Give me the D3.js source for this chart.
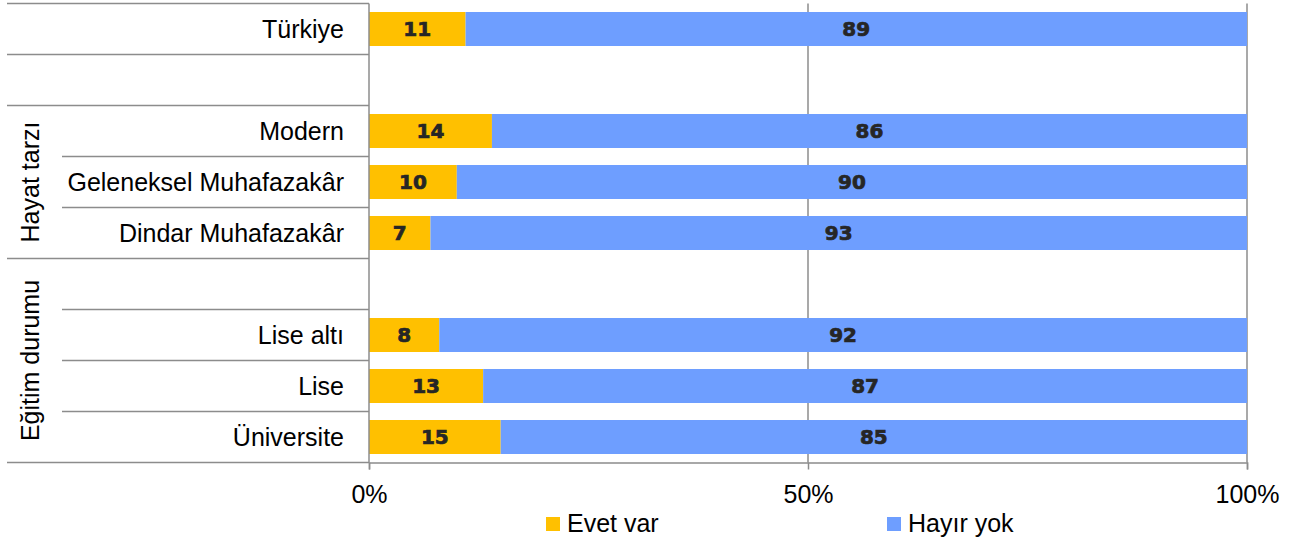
<!DOCTYPE html>
<html>
<head>
<meta charset="utf-8">
<script src="https://cdn.jsdelivr.net/npm/d3@7"></script>
<style>
  html, body { margin: 0; padding: 0; background: #fff; }
  svg { display: block; }
  text { font-family: "Liberation Sans", Arial, sans-serif; }
</style>
</head>
<body>
<svg id="chart" width="1300" height="543"></svg>
<script>
// ---- data ----
const categories = ["Türkiye", "", "Modern", "Geleneksel Muhafazakâr", "Dindar Muhafazakâr", "", "Lise altı", "Lise", "Üniversite"];
const evetVar  = [11, null, 14, 10, 7, null, 8, 13, 15];
const hayirYok = [89, null, 86, 90, 93, null, 92, 87, 85];
const seriesNames = ["Evet var", "Hayır yok"];
const seriesColors = ["#FFC000", "#6E9EFF"];
const groups = [
  { label: "Hayat tarzı", first: 2, last: 4 },
  { label: "Eğitim durumu", first: 5, last: 8 }
];
const xTicks = [0, 50, 100];
const fullLineAfter = [-1, 0, 1, 4, 8]; // separator lines spanning full label area

// ---- layout ----
const svg = d3.select("#chart");
const pLeft = 369, pRight = 1247, pTop = 3.5, pBottom = 462.5;
const keys = categories.map((c, i) => i);
const rows = categories.map((c, i) => ({ i, name: c, vals: [evetVar[i], hayirYok[i]] }));
const fs = "25px";

const x = d3.scaleLinear().domain([0, 100]).range([pLeft, pRight]);
const y = d3.scaleBand().domain(keys).range([pTop, pBottom]).paddingInner(1/3).paddingOuter(1/6);
const step = y.step();
const lineColor = "#8c8c8c";

// gridlines
svg.append("g").selectAll("line").data(xTicks.filter(t => t > 0)).join("line")
  .attr("x1", d => x(d)).attr("x2", d => x(d))
  .attr("y1", pTop).attr("y2", pBottom)
  .attr("stroke", lineColor).attr("stroke-width", 1.5);

// bars
const barG = svg.append("g");
rows.filter(r => r.vals[0] != null).forEach(r => {
  let acc = 0;
  r.vals.forEach((v, s) => {
    barG.append("rect")
      .attr("x", x(acc)).attr("width", x(acc + v) - x(acc))
      .attr("y", y(r.i)).attr("height", y.bandwidth())
      .attr("fill", seriesColors[s]);
    barG.append("text")
      .attr("x", (x(acc) + x(acc + v)) / 2)
      .attr("y", y(r.i) + y.bandwidth() / 2)
      .attr("dy", "0.36em")
      .attr("text-anchor", "middle")
      .style("font-family", "'DejaVu Sans', sans-serif")
      .style("font-weight", "bold")
      .style("font-size", "20px")
      .attr("fill", "#262626")
      .attr("stroke", "#262626").attr("stroke-width", 0.7)
      .text(v);
    acc += v;
  });
});

// separator lines (category axis)
const boundaryY = i => y(i) + y.bandwidth() + step / 6; // bottom edge of row i
const sepG = svg.append("g");
for (let i = -1; i < categories.length; i++) {
  const yy = i < 0 ? pTop : boundaryY(i);
  const full = fullLineAfter.includes(i);
  sepG.append("line")
    .attr("x1", full ? 7 : 62).attr("x2", pLeft)
    .attr("y1", yy).attr("y2", yy)
    .attr("stroke", lineColor).attr("stroke-width", 1.5);
}

// vertical axis line
svg.append("line").attr("x1", pLeft).attr("x2", pLeft).attr("y1", pTop).attr("y2", pBottom)
  .attr("stroke", lineColor).attr("stroke-width", 1.5);

// x axis
const xAxis = d3.axisBottom(x).tickValues(xTicks).tickFormat(d => d + "%").tickSize(7).tickPadding(15.5);
const xg = svg.append("g").attr("transform", `translate(0,${pBottom})`).call(xAxis);
xg.select(".domain").attr("stroke", lineColor).attr("stroke-width", 1.5);
xg.selectAll(".tick line").attr("stroke", lineColor).attr("stroke-width", 1.5);
xg.selectAll(".tick text").style("font-size", fs).attr("fill", "#000")
  .style("font-family", "'Liberation Sans', Arial, sans-serif");

// category labels
svg.append("g").selectAll("text").data(rows.filter(r => r.name)).join("text")
  .attr("x", 344).attr("y", r => y(r.i) + y.bandwidth() / 2).attr("dy", "0.35em")
  .attr("text-anchor", "end").style("font-size", fs).attr("fill", "#000")
  .text(r => r.name);

// group labels
groups.forEach(g => {
  const y0 = y(g.first) - step / 6, y1 = y(g.last) + y.bandwidth() + step / 6;
  svg.append("text")
    .attr("transform", `translate(30,${(y0 + y1) / 2}) rotate(-90)`)
    .attr("text-anchor", "middle").attr("dy", "0.35em")
    .style("font-size", fs).attr("fill", "#000")
    .text(g.label);
});

// legend
const legendX = [546, 887];
seriesNames.forEach((n, s) => {
  svg.append("rect").attr("x", legendX[s]).attr("y", 517).attr("width", 14).attr("height", 14)
    .attr("fill", seriesColors[s]);
  svg.append("text").attr("x", legendX[s] + 21).attr("y", 532)
    .style("font-size", fs).attr("fill", "#000").text(n);
});
</script>
</body>
</html>
